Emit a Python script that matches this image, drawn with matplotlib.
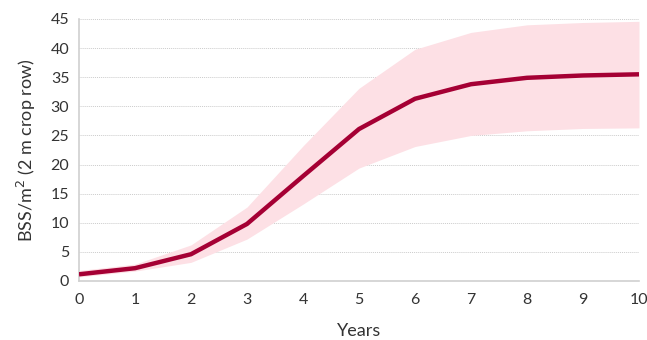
import matplotlib
matplotlib.use("Agg")
import matplotlib.pyplot as plt

years = [0, 1, 2, 3, 4, 5, 6, 7, 8, 9, 10]
bss_mean = [1.15, 2.2, 4.6, 9.8, 18.0, 26.1, 31.3, 33.8, 34.9, 35.3, 35.5]
bss_upper = [1.8, 2.9, 6.2, 12.7, 23.2, 33.1, 39.8, 42.7, 44.0, 44.4, 44.6]
bss_lower = [0.7, 1.7, 3.2, 7.2, 13.2, 19.4, 23.1, 25.0, 25.8, 26.2, 26.3]
y_ticks = [0, 5, 10, 15, 20, 25, 30, 35, 40, 45]

plt.rcParams["font.family"] = ["Lato", "DejaVu Sans"]
text_col = "#333333"

fig = plt.figure(figsize=(6.47, 3.40), dpi=100)
ax = fig.add_axes([79 / 647, 1 - 281 / 340, 560 / 647, 262 / 340])

ax.fill_between(years, bss_lower, bss_upper, color="#fde0e5", linewidth=0, zorder=2)
ax.plot(years, bss_mean, color="#a50034", linewidth=3.2, zorder=3, solid_capstyle="butt")

ax.set_xlim(0, 10)
ax.set_ylim(0, 45)
ax.set_xticks(years)
ax.set_yticks(y_ticks)
ax.tick_params(length=0, labelsize=11.5, colors=text_col, pad=7)
ax.tick_params(axis="x", pad=9)

ax.grid(axis="y", linestyle=(0, (1, 1)), color="#cccccc", linewidth=0.7, zorder=1)
for side in ["top", "right"]:
    ax.spines[side].set_visible(False)
for side in ["left", "bottom"]:
    ax.spines[side].set_color("#d0d0d0")
    ax.spines[side].set_linewidth(1.2)

ax.set_xlabel("Years", fontsize=13, color=text_col, labelpad=11)
ax.set_ylabel("BSS/m$^2$ (2 m crop row)", fontsize=13, color=text_col, labelpad=9)

fig.savefig("out.png", dpi=100)
